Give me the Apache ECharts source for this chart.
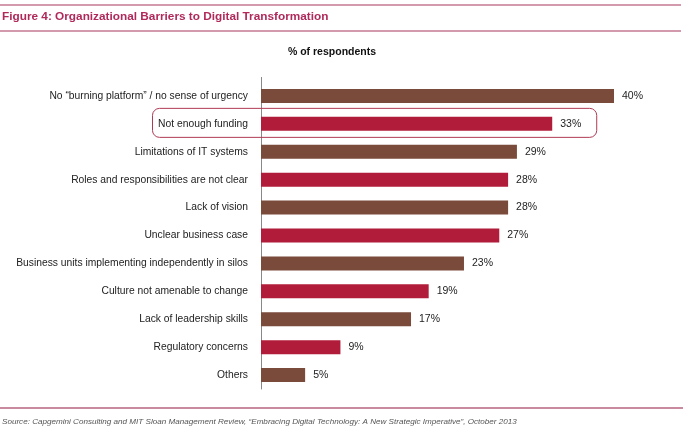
<!DOCTYPE html>
<html><head><meta charset="utf-8">
<script src="https://cdn.jsdelivr.net/npm/echarts@6/dist/echarts.min.js"></script>
<style>html,body{margin:0;padding:0;background:#fff}#c{width:683px;height:435px}</style>
</head><body><div id="c"></div>
<script>
const categories = [
  'No \u201cburning platform\u201d / no sense of urgency',
  'Not enough funding',
  'Limitations of IT systems',
  'Roles and responsibilities are not clear',
  'Lack of vision',
  'Unclear business case',
  'Business units implementing independently in silos',
  'Culture not amenable to change',
  'Lack of leadership skills',
  'Regulatory concerns',
  'Others'
];
const values = [40, 33, 29, 28, 28, 27, 23, 19, 17, 9, 5];
const highlighted = 'Not enough funding';
const titleText = 'Figure 4: Organizational Barriers to Digital Transformation';
const subtitleText = '% of respondents';
const sourceText = 'Source: Capgemini Consulting and MIT Sloan Management Review, \u201cEmbracing Digital Technology: A New Strategic Imperative\u201d, October 2013';

const BROWN = '#7a4a3a', RED = '#b01c3a', LINE = '#a8365e';
const font = '"Liberation Sans", Arial, sans-serif';
const chart = echarts.init(document.getElementById('c'));
chart.setOption({
  animation: false,
  backgroundColor: '#fff',
  title: [
    { text: titleText, left: 2, top: 11, padding: 0, textStyle: { fontFamily: font, fontSize: 11.8, fontWeight: 'bold', color: '#b0295a' } },
    { text: subtitleText, left: 332, textAlign: 'center', top: 47, padding: 0, textStyle: { fontFamily: font, fontSize: 10.5, fontWeight: 'bold', color: '#111' } },
    { text: sourceText, left: 2, top: 418, padding: 0, textStyle: { fontFamily: font, fontSize: 8.1, fontStyle: 'italic', fontWeight: 'normal', color: '#555' } }
  ],
  grid: { left: 261, right: 69, top: 82, bottom: 46, containLabel: false, outerBoundsMode: 'none' },
  xAxis: { type: 'value', min: 0, max: 40, show: false },
  yAxis: {
    type: 'category', data: categories, inverse: true,
    axisLine: { show: true, lineStyle: { color: '#888', width: 1 } },
    axisTick: { show: false },
    axisLabel: { fontFamily: font, fontSize: 10.3, color: '#222', margin: 13 }
  },
  series: [{
    type: 'bar', barWidth: 14,
    data: values.map((v, i) => ({ value: v, itemStyle: { color: i % 2 === 0 ? BROWN : RED } })),
    label: { show: true, position: 'right', distance: 8, formatter: '{c}%', fontFamily: font, fontSize: 10.5, color: '#222' }
  }]
});
const idx = categories.indexOf(highlighted);
const pc = chart.convertToPixel({ gridIndex: 0 }, [values[idx], idx]);
const p0 = chart.convertToPixel({ gridIndex: 0 }, [0, 0]);
const band = chart.convertToPixel({ gridIndex: 0 }, [0, 1])[1] - p0[1];
chart.setOption({
  graphic: [
    { type: 'line', shape: { x1: 0, y1: 5, x2: 681, y2: 5 }, style: { stroke: LINE, lineWidth: 1.2 } },
    { type: 'line', shape: { x1: 0, y1: 31, x2: 681, y2: 31 }, style: { stroke: LINE, lineWidth: 1.2 } },
    { type: 'line', shape: { x1: 0, y1: 408, x2: 683, y2: 408 }, style: { stroke: '#c98aa0', lineWidth: 2 } },
    { type: 'line', shape: { x1: p0[0] + 0.5, y1: p0[1] - band / 2 - 5, x2: p0[0] + 0.5, y2: p0[1] - band / 2 }, style: { stroke: '#888', lineWidth: 1 } },
    { type: 'rect', shape: { x: 152.5, y: pc[1] - 15.5, width: pc[0] + 44 - 152, height: 29, r: 7 }, style: { fill: 'none', stroke: '#b03a55', lineWidth: 1 }, z: 10 }
  ]
});
</script></body></html>
